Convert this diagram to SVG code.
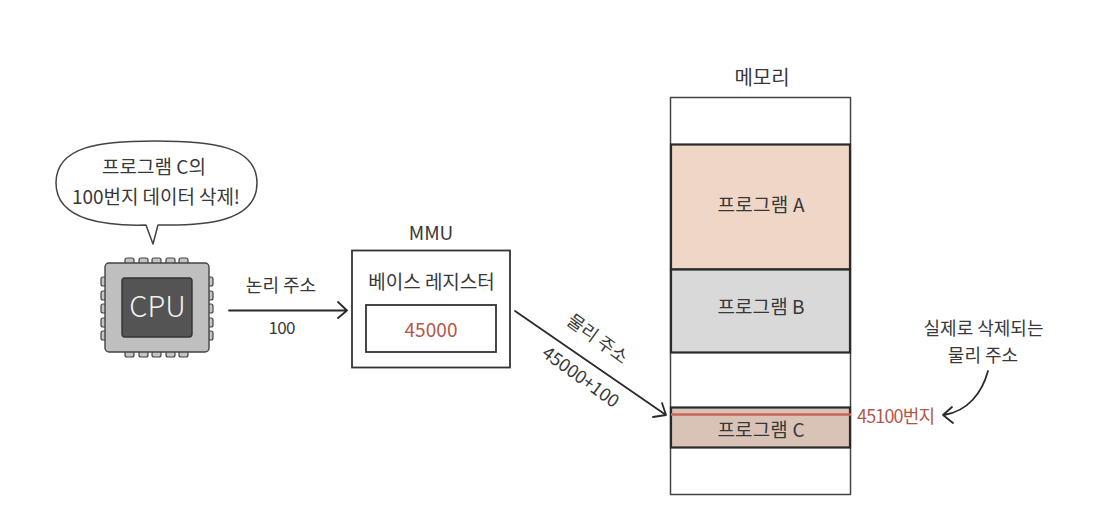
<svg xmlns="http://www.w3.org/2000/svg" width="1104" height="522" viewBox="0 0 1104 522">
<style>
text{font-family:"Noto Sans CJK KR","Noto Sans",sans-serif;font-size:19px;font-weight:400;fill:#383838;text-anchor:middle}
.red{fill:#b5564a}
.box{stroke:#333;stroke-width:1.8;fill:none}
.thick{stroke:#2a2a2a;stroke-width:2.2}
.pin{fill:#c4c4c4;stroke:#444;stroke-width:1.2}
.line{fill:none;stroke:#2a2a2a;stroke-width:1.8;stroke-linecap:round;stroke-linejoin:round}
</style>
<rect width="1104" height="522" fill="#fff"/>
<g id="bubble">
<path d="M146 225C110 226 56 222 56 183C56 146 100 141 155 141C212 141 257 146 257 183C257 222 205 226 158 225L153 244Z" fill="#fff" stroke="#444" stroke-width="1.5" stroke-linejoin="round"/>
<text x="154" y="174">프로그램 C의</text>
<text x="156" y="204" textLength="168" lengthAdjust="spacing">100번지 데이터 삭제!</text>
</g>
<g id="cpu">
<g class="pin">
<rect x="125" y="258" width="9" height="6" rx="2"/><rect x="139" y="258" width="9" height="6" rx="2"/><rect x="152" y="258" width="9" height="6" rx="2"/><rect x="166" y="258" width="9" height="6" rx="2"/><rect x="179" y="258" width="9" height="6" rx="2"/>
<rect x="125" y="351" width="9" height="6" rx="2"/><rect x="139" y="351" width="9" height="6" rx="2"/><rect x="152" y="351" width="9" height="6" rx="2"/><rect x="166" y="351" width="9" height="6" rx="2"/><rect x="179" y="351" width="9" height="6" rx="2"/>
<rect x="101" y="277" width="5" height="9" rx="2"/><rect x="101" y="291" width="5" height="9" rx="2"/><rect x="101" y="304" width="5" height="9" rx="2"/><rect x="101" y="318" width="5" height="9" rx="2"/><rect x="101" y="331" width="5" height="9" rx="2"/>
<rect x="208" y="277" width="5" height="9" rx="2"/><rect x="208" y="291" width="5" height="9" rx="2"/><rect x="208" y="304" width="5" height="9" rx="2"/><rect x="208" y="318" width="5" height="9" rx="2"/><rect x="208" y="331" width="5" height="9" rx="2"/>
</g>
<rect x="105" y="263" width="104" height="89" rx="4" fill="#bfbfbf" stroke="#444" stroke-width="1.4"/>
<rect x="122" y="278" width="70" height="59" rx="3" fill="#545454" stroke="#333" stroke-width="1.4"/>
<text x="157.500" y="317" style="font-size:29px;font-weight:300;fill:#f2f2f2">CPU</text>
</g>
<g id="mmu">
<text x="431" y="240">MMU</text>
<rect class="box" x="352" y="250.500" width="158" height="117"/>
<text x="431.500" y="289">베이스 레지스터</text>
<rect class="box" x="366" y="305" width="130" height="47"/>
<text class="red" x="431" y="337" textLength="53" lengthAdjust="spacing">45000</text>
</g>
<g id="memory">
<text x="762" y="85" style="font-size:20px">메모리</text>
<rect x="670.500" y="97.500" width="180" height="397" fill="#fff" stroke="#444" stroke-width="1.5"/>
<g id="program-a">
<rect class="thick" x="671" y="144.500" width="179" height="125" fill="#efd6c7"/>
<text x="761" y="212" textLength="87" lengthAdjust="spacing">프로그램 A</text>
</g>
<g id="program-b">
<rect class="thick" x="671" y="269.500" width="179" height="83" fill="#d9d9d9"/>
<text x="761" y="314" textLength="87" lengthAdjust="spacing">프로그램 B</text>
</g>
<g id="program-c">
<rect class="thick" x="671" y="407.500" width="179" height="40" fill="#d9c3b6"/>
<text x="761" y="437" textLength="87" lengthAdjust="spacing">프로그램 C</text>
</g>
<path d="M671 414.500H851" stroke="#c8655a" stroke-width="2.600"/>
</g>
<g id="address-label">
<text class="red" x="896" y="423" textLength="78" lengthAdjust="spacing" style="font-size:18px">45100번지</text>
</g>
<g id="note">
<text x="983.500" y="335" style="font-size:18px">실제로 삭제되는</text>
<text x="983" y="362" style="font-size:18px">물리 주소</text>
</g>
<g id="connectors">
<path class="line" d="M229 310.500H347M338 302L347 310.500L338 318"/>
<path class="line" d="M515 311L666 415M662 403L666 415L653 417"/>
<path class="line" d="M988 371C982 393 968 411 944 415M952 407L943 415L953 423"/>
<text x="281" y="292" style="font-size:18px">논리 주소</text>
<text x="282" y="334" textLength="27" lengthAdjust="spacing" style="font-size:17px">100</text>
<text transform="translate(594 344) rotate(36)" style="font-size:18px">물리 주소</text>
<text transform="translate(577 382) rotate(36)" style="font-size:18px">45000+100</text>
</g>
</svg>
